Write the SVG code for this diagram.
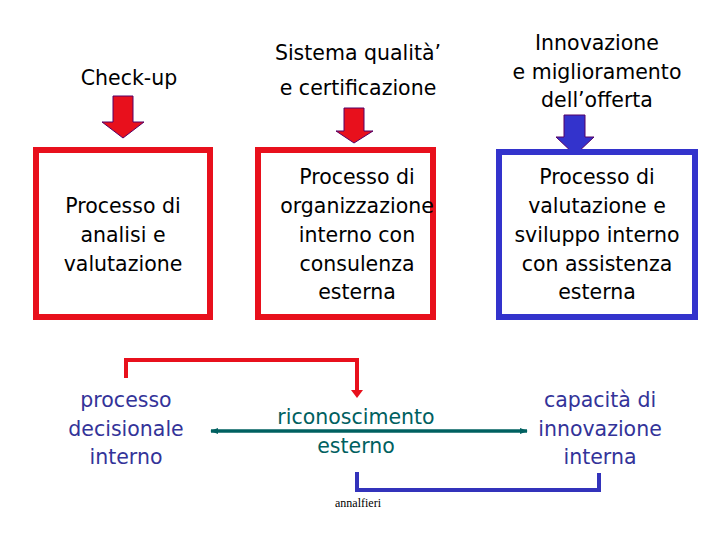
<svg xmlns="http://www.w3.org/2000/svg" width="720" height="540" viewBox="0 0 720 540">
<style>
.t{font-family:"DejaVu Sans",sans-serif;font-size:20.5px;text-anchor:middle;fill:#000}
.b{fill:#333399}
.g{fill:#006060}
.box{fill:#fff;stroke-width:6}
.arr{stroke:#550066;stroke-width:1}
</style>
<defs>
<marker id="gh" viewBox="0 0 10 10" refX="9" refY="5" markerWidth="8" markerHeight="8" markerUnits="userSpaceOnUse" orient="auto-start-reverse"><path d="M0,1 L10,5 L0,9 z" fill="#006060"/></marker>
</defs>
<rect width="720" height="540" fill="#fff"/>
<g id="n-checkup">
<text class="t" x="129" y="85">Check-up</text>
<polygon class="arr" fill="#e8101c" points="113,96 133,96 133,122 144,122 123,138 102,122 113,122"/>
</g>
<g id="n-sistema">
<text class="t" x="358" y="60">Sistema qualità’</text>
<text class="t" x="358" y="95">e certificazione</text>
<polygon class="arr" fill="#e8101c" points="344,108 364,108 364,131 373,131 354,143 336,131 344,131"/>
</g>
<g id="n-innovazione">
<text class="t" x="597" y="50">Innovazione</text>
<text class="t" x="597" y="79">e miglioramento</text>
<text class="t" x="597" y="107">dell’offerta</text>
<polygon class="arr" fill="#3333cc" stroke="#1a1a66" points="564,115 585,115 585,137 594,137 575,155 556,137 564,137"/>
</g>
<g id="n-analisi">
<rect class="box" x="36" y="150" width="174" height="167" stroke="#e8101c"/>
<text class="t" x="123" y="213">Processo di</text>
<text class="t" x="123" y="242">analisi e</text>
<text class="t" x="123" y="271">valutazione</text>
</g>
<g id="n-organizzazione">
<rect class="box" x="258" y="150" width="175" height="167" stroke="#e8101c"/>
<text class="t" x="357" y="184">Processo di</text>
<text class="t" x="357" y="213">organizzazione</text>
<text class="t" x="357" y="242">interno con</text>
<text class="t" x="357" y="271">consulenza</text>
<text class="t" x="357" y="299">esterna</text>
</g>
<g id="n-valutazione">
<rect class="box" x="499" y="152" width="196" height="165" stroke="#3333cc"/>
<text class="t" x="597" y="184">Processo di</text>
<text class="t" x="597" y="213">valutazione e</text>
<text class="t" x="597" y="242">sviluppo interno</text>
<text class="t" x="597" y="271">con assistenza</text>
<text class="t" x="597" y="299">esterna</text>
</g>
<g id="n-decisionale">
<text class="t b" x="126" y="407">processo</text>
<text class="t b" x="126" y="436">decisionale</text>
<text class="t b" x="126" y="464">interno</text>
</g>
<g id="n-riconoscimento">
<text class="t g" x="356" y="424">riconoscimento</text>
<text class="t g" x="356" y="453">esterno</text>
</g>
<g id="n-capacita">
<text class="t b" x="600" y="407">capacità di</text>
<text class="t b" x="600" y="436">innovazione</text>
<text class="t b" x="600" y="464">interna</text>
</g>
<g id="connectors" fill="none">
<polyline points="126,378 126,360 357,360 357,392" stroke="#e8101c" stroke-width="4"/>
<polygon points="351,390 363,390 357,398" fill="#e8101c"/>
<line x1="211" y1="431" x2="527" y2="431" stroke="#006060" stroke-width="3.5" marker-start="url(#gh)" marker-end="url(#gh)"/>
<polyline points="357,472 357,490 599,490 599,473" stroke="#3333bb" stroke-width="4"/>
</g>
<text x="358" y="507" font-family="Liberation Serif,serif" font-size="12" text-anchor="middle" fill="#000">annalfieri</text>
</svg>
